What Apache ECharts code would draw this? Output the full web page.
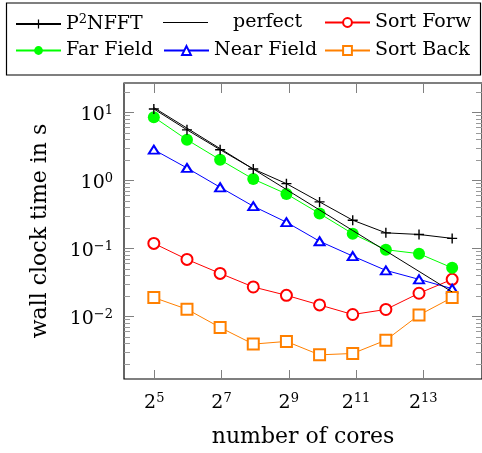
<!DOCTYPE html>
<html>
<head>
<meta charset="utf-8">
<script src="https://cdn.jsdelivr.net/npm/echarts@6/dist/echarts.min.js"></script>
<style>html,body{margin:0;padding:0;background:#fff;}#c{width:482px;height:453px;}</style>
</head>
<body>
<div id="c"></div>
<script>
// number of cores (2^5 .. 2^14)
const cores = [32, 64, 128, 256, 512, 1024, 2048, 4096, 8192, 16384];
// wall clock time in s
const p2nfft    = [11.3, 5.57, 2.84, 1.48, 0.90, 0.485, 0.261, 0.170, 0.161, 0.141];
const perfect   = [11.8, 5.9, 2.95, 1.475, 0.7375, 0.369, 0.184, 0.0922, 0.0461, 0.0230];
const farField  = [8.56, 3.98, 2.02, 1.05, 0.636, 0.327, 0.165, 0.096, 0.084, 0.052];
const nearField = [2.84, 1.53, 0.796, 0.419, 0.244, 0.128, 0.0774, 0.0477, 0.0352, 0.0257];
const sortForw  = [0.119, 0.0692, 0.0431, 0.0272, 0.0205, 0.0148, 0.0107, 0.0127, 0.0220, 0.0352];
const sortBack  = [0.0190, 0.0128, 0.0069, 0.00393, 0.00430, 0.00273, 0.00286, 0.00449, 0.0105, 0.0190];
// x tick labels (exponents of 2)
const xTickExps = [5, 7, 9, 11, 13];

const FONT = 'DejaVu Serif';
const FS = 19;
const NAME_FS = 22;
const pairs = arr => cores.map((c, i) => [c, arr[i]]);
const plusPath = 'path://M4.3,0h1.4v10h-1.4zM0,4.3h10v1.4h-10z';

const chart = echarts.init(document.getElementById('c'), null, {renderer: 'canvas'});

function mkLegend(name, left, top, extra) {
  const lg = {
    data: [name], left: left, top: top, padding: 0,
    itemWidth: 45, itemHeight: 11, selectedMode: false,
    formatter: n => n === 'P2NFFT' ? 'P{sup|2}NFFT' : n,
    textStyle: {
      fontFamily: FONT, fontSize: FS, color: '#000',
      padding: [0, 0, 0, (extra && extra.pad) || 0],
      rich: {sup: {fontFamily: FONT, fontSize: 13, padding: [0, 0, 9, 0]}}
    }
  };
  if (extra && extra.icon) { lg.icon = extra.icon; lg.itemHeight = 1.2; }
  return lg;
}

const tickColor = '#808080';
const option = {
  animation: false,
  backgroundColor: '#fff',
  textStyle: {fontFamily: FONT},
  graphic: [{
    type: 'rect', shape: {x: 6.5, y: 3, width: 474, height: 72},
    style: {fill: 'none', stroke: '#000', lineWidth: 1.2}
  }],
  legend: [
    mkLegend('P2NFFT', 15, 13),
    mkLegend('perfect', 163, 13, {pad: 20, icon: 'rect'}),
    mkLegend('Sort Forw', 324, 13),
    mkLegend('Far Field', 15, 41),
    mkLegend('Near Field', 163, 41),
    mkLegend('Sort Back', 324, 41)
  ],
  grid: [
    {left: 124, top: 83, width: 363, height: 297, show: true, borderColor: '#000', borderWidth: 1.2, backgroundColor: 'transparent'},
    {left: 154.3, top: 83, width: 269, height: 297, show: false}
  ],
  xAxis: [
    {
      type: 'log', logBase: 2, gridIndex: 0,
      min: Math.pow(2, 4.1), max: Math.pow(2, 14.9),
      axisLine: {show: false}, axisTick: {show: false}, axisLabel: {show: false},
      splitLine: {show: false}, minorTick: {show: false},
      name: 'number of cores', nameLocation: 'middle', nameGap: 47,
      nameTextStyle: {fontFamily: FONT, fontSize: NAME_FS, color: '#000'}
    },
    {
      type: 'value', gridIndex: 1, position: 'bottom',
      min: 0, max: 8, interval: 2,
      axisLine: {show: false},
      axisTick: {show: true, inside: true, length: 10, lineStyle: {color: tickColor, width: 1}},
      axisLabel: {
        margin: 12, color: '#000', fontFamily: FONT, fontSize: FS,
        formatter: v => { const i = v / 2; return (i >= 0 && i < xTickExps.length) ? '2{sup|' + xTickExps[i] + '}' : ''; },
        rich: {sup: {fontFamily: FONT, fontSize: 13, padding: [0, 0, 9, 0]}}
      },
      splitLine: {show: false}
    },
    {
      type: 'value', gridIndex: 1, position: 'top',
      min: 0, max: 8, interval: 2,
      axisLine: {show: false},
      axisTick: {show: true, inside: true, length: 10, lineStyle: {color: tickColor, width: 1}},
      axisLabel: {show: false}, splitLine: {show: false}
    }
  ],
  yAxis: [
    {
      type: 'log', logBase: 10, gridIndex: 0,
      min: 0.001205, max: 27.2,
      axisLine: {show: false},
      axisTick: {show: true, inside: true, length: 10, lineStyle: {color: tickColor, width: 1}},
      minorTick: {show: true, splitNumber: 9, length: 6, lineStyle: {color: '#999', width: 1}},
      axisLabel: {
        margin: 11, color: '#000', fontFamily: FONT, fontSize: FS,
        padding: [6, 0, 0, 0],
        showMinLabel: false, showMaxLabel: false,
        formatter: v => {
          const l = Math.log10(v), e = Math.round(l);
          if (Math.abs(l - e) > 1e-6) return '';
          return '10{sup|' + (e < 0 ? '\u2212' + (-e) : e) + '}';
        },
        rich: {sup: {fontFamily: FONT, fontSize: 13, padding: [0, 0, 9, 0]}}
      },
      splitLine: {show: false}, minorSplitLine: {show: false},
      name: 'wall clock time in s', nameLocation: 'middle', nameGap: 73, nameRotate: 90,
      nameTextStyle: {fontFamily: FONT, fontSize: NAME_FS, color: '#000'}
    },
    {
      type: 'log', logBase: 10, gridIndex: 0, position: 'right',
      min: 0.001205, max: 27.2,
      axisLine: {show: false},
      axisTick: {show: true, inside: true, length: 10, lineStyle: {color: tickColor, width: 1}},
      minorTick: {show: true, splitNumber: 9, length: 6, lineStyle: {color: '#999', width: 1}},
      axisLabel: {show: false}, splitLine: {show: false}, minorSplitLine: {show: false}
    },
    {type: 'value', gridIndex: 1, show: false, min: 0, max: 1}
  ],
  series: [
    {name: 'P2NFFT', type: 'line', xAxisIndex: 0, yAxisIndex: 0, data: pairs(p2nfft),
     symbol: plusPath, symbolSize: 10, itemStyle: {color: '#000'}, lineStyle: {color: '#000', width: 1}, z: 5},
    {name: 'perfect', type: 'line', xAxisIndex: 0, yAxisIndex: 0, data: pairs(perfect),
     symbol: 'none', showSymbol: false, itemStyle: {color: '#000'}, lineStyle: {color: '#000', width: 1}, z: 4},
    {name: 'Sort Forw', type: 'line', xAxisIndex: 0, yAxisIndex: 0, data: pairs(sortForw),
     symbol: 'emptyCircle', symbolSize: 11, itemStyle: {color: '#ff0000', borderWidth: 1}, lineStyle: {color: '#ff0000', width: 1}},
    {name: 'Far Field', type: 'line', xAxisIndex: 0, yAxisIndex: 0, data: pairs(farField),
     symbol: 'circle', symbolSize: 12, itemStyle: {color: '#00ff00'}, lineStyle: {color: '#00ff00', width: 1}},
    {name: 'Near Field', type: 'line', xAxisIndex: 0, yAxisIndex: 0, data: pairs(nearField),
     symbol: 'emptyTriangle', symbolSize: [10, 8], itemStyle: {color: '#0000ff', borderWidth: 1}, lineStyle: {color: '#0000ff', width: 1}},
    {name: 'Sort Back', type: 'line', xAxisIndex: 0, yAxisIndex: 0, data: pairs(sortBack),
     symbol: 'emptyRect', symbolSize: 11, itemStyle: {color: '#ff8000', borderWidth: 1}, lineStyle: {color: '#ff8000', width: 1}}
  ]
};
chart.setOption(option);
</script>
</body>
</html>
